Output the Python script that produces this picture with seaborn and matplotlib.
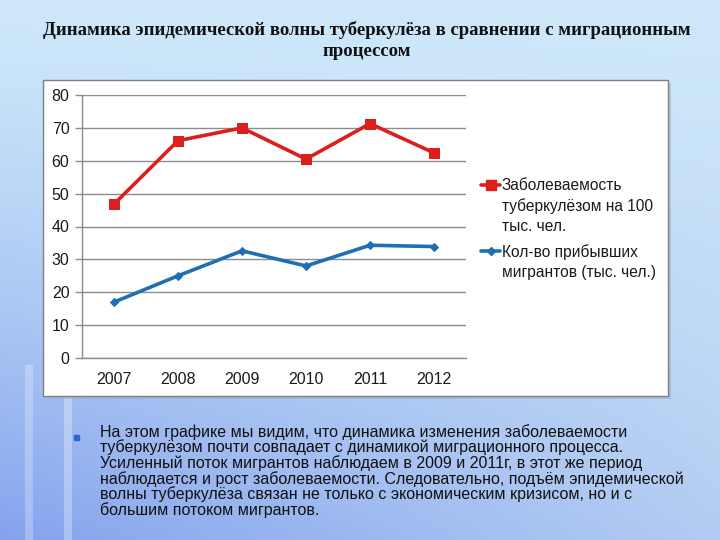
import numpy as np
import pandas as pd
import matplotlib
matplotlib.use("Agg")
import matplotlib.pyplot as plt
import matplotlib.patches as patches
from matplotlib.lines import Line2D
import seaborn as sns

# === Данные
years = ["2007", "2008", "2009", "2010", "2011", "2012"]
tb_rate = [46.8, 66.1, 70.0, 60.5, 71.3, 62.4]
migrants = [17.0, 25.0, 32.6, 28.0, 34.3, 33.9]
label_tb = "Заболеваемость\nтуберкулёзом на 100\nтыс. чел."
label_mig = "Кол-во прибывших\nмигрантов (тыс. чел.)"

title_lines = ["Динамика эпидемической волны туберкулёза в сравнении с миграционным",
               "процессом"]
body = ("На этом графике мы видим, что динамика изменения заболеваемости\n"
        "туберкулёзом почти совпадает с динамикой миграционного процесса.\n"
        "Усиленный поток мигрантов наблюдаем в 2009 и 2011г, в этот же период\n"
        "наблюдается и рост заболеваемости. Следовательно, подъём эпидемической\n"
        "волны туберкулёза связан не только с экономическим кризисом, но и с\n"
        "большим потоком мигрантов.")

red = "#dc1e1e"
blue = "#1f6fb2"

sns.set_style("white")
plt.rcParams["font.family"] = ["Liberation Sans", "DejaVu Sans"]

fig = plt.figure(figsize=(7.2, 5.4), dpi=100)

# === Фон слайда (градиент)
bg = fig.add_axes([0, 0, 1, 1], zorder=-10)
yy, xx = np.mgrid[0:1:200j, 0:1:200j]
top = np.array([0.81, 0.91, 0.98])
bot_l = np.array([0.52, 0.64, 0.93])
bot_r = np.array([0.70, 0.80, 0.95])
t = np.clip(yy, 0, 1)[..., None] ** 1.3
bottom = bot_l * (1 - xx[..., None]) + bot_r * xx[..., None]
img = top * (1 - t) + bottom * t
bg.imshow(img, extent=[0, 1, 0, 1], aspect="auto", origin="upper")
bg.add_patch(patches.Rectangle((25 / 720, 0), 8 / 720, 175 / 540,
                               color="white", alpha=0.25, lw=0))
bg.add_patch(patches.Rectangle((64 / 720, 0), 8 / 720, 145 / 540,
                               color="white", alpha=0.3, lw=0))
bg.set_xlim(0, 1)
bg.set_ylim(0, 1)
bg.axis("off")

# === Рамка диаграммы
fig.patches.append(patches.Rectangle((46 / 720, 1 - 399 / 540), 625 / 720, 316 / 540,
                                     transform=fig.transFigure, facecolor="#9aaec8",
                                     edgecolor="none", alpha=0.5, zorder=-5))
fig.patches.append(patches.Rectangle((43 / 720, 1 - 396 / 540), 625 / 720, 316 / 540,
                                     transform=fig.transFigure, facecolor="white",
                                     edgecolor="#7f7f7f", lw=1, zorder=-4))

# === График
ax = fig.add_axes([82 / 720, 1 - 358 / 540, 384 / 720, 263 / 540])
df = pd.DataFrame({"x": np.arange(len(years)), "tb": tb_rate, "mig": migrants})
sns.lineplot(data=df, x="x", y="tb", ax=ax, color=red, lw=2.6, marker="s",
             markersize=7, markeredgecolor=red)
sns.lineplot(data=df, x="x", y="mig", ax=ax, color=blue, lw=2.6, marker="D",
             markersize=4.5, markeredgecolor=blue)

ax.set_xlim(-0.5, len(years) - 0.5)
ax.set_ylim(0, 80)
ax.set_yticks(range(0, 81, 10))
ax.set_xticks(np.arange(len(years)))
ax.set_xticklabels(years)
ax.set_xticks(np.arange(-0.5, len(years)), minor=True)
ax.tick_params(axis="x", which="major", length=0, pad=10, labelsize=11.5, colors="#1a1a1a")
ax.tick_params(axis="x", which="minor", length=5, width=1, color="#8c8c8c", direction="out")
ax.tick_params(axis="y", length=5, width=1, color="#8c8c8c", direction="out",
               labelsize=11.5, labelcolor="#1a1a1a", pad=4, left=True)
ax.set_xlabel("")
ax.set_ylabel("")
ax.grid(axis="y", color="#8c8c8c", lw=1)
ax.set_axisbelow(True)
for s in ["top", "right"]:
    ax.spines[s].set_visible(False)
for s in ["left", "bottom"]:
    ax.spines[s].set_color("#8c8c8c")
    ax.spines[s].set_linewidth(1)

# === Легенда (маркер на уровне первой строки подписи)
for lab, col, mk, ms, ytop in [(label_tb, red, "s", 6.5, 185), (label_mig, blue, "D", 4, 251)]:
    fig.add_artist(Line2D([481 / 720, 500 / 720], [1 - ytop / 540] * 2,
                          transform=fig.transFigure, color=col, lw=2.6))
    fig.add_artist(Line2D([490.5 / 720], [1 - ytop / 540], transform=fig.transFigure,
                          color=col, marker=mk, markersize=ms, lw=0))
    fig.text(502 / 720, 1 - (ytop - 7) / 540, lab, ha="left", va="top",
             fontsize=11.2, linespacing=1.42, color="#1a1a1a")

# === Заголовок и текст
for i, line in enumerate(title_lines):
    fig.text(367 / 720, 1 - (30 + 22 * i) / 540, line, ha="center", va="center",
             family=["Liberation Serif", "DejaVu Serif"], weight="bold",
             fontsize=13.5, color="#111111")

fig.patches.append(patches.Rectangle((74 / 720, 1 - 440 / 540), 5 / 720, 5 / 540,
                                     transform=fig.transFigure, color="#3366cc"))
fig.text(100 / 720, 1 - 424 / 540, body, ha="left", va="top", fontsize=11.5,
         linespacing=0.98, color="#111111")

fig.savefig("out.png", dpi=100)
